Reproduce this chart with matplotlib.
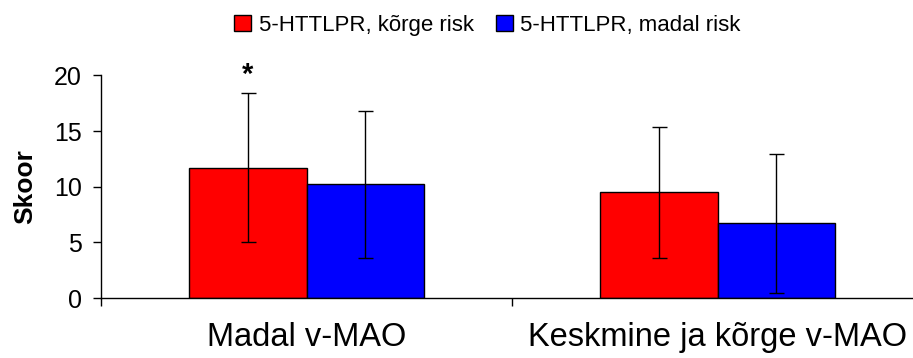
import numpy as np
import matplotlib.pyplot as plt
from matplotlib.patches import Patch

plt.rcParams['font.family'] = ['Liberation Sans', 'DejaVu Sans']

# data
categories = ['Madal v-MAO', 'Keskmine ja kõrge v-MAO']
series_names = ['5-HTTLPR, kõrge risk', '5-HTTLPR, madal risk']
high_risk = [11.7, 9.5]
high_risk_sd = [6.7, 5.9]
low_risk = [10.2, 6.7]
low_risk_sd = [6.6, 6.25]
yticks = [0, 5, 10, 15, 20]

# plot
fig = plt.figure(figsize=(9.13, 3.58), dpi=100)
ax = fig.add_axes([101 / 913, 60 / 358, 822 / 913, 222.6 / 358])

x = np.arange(len(categories))
w = 0.285
err_style = dict(ecolor='black', elinewidth=1, capsize=5.4, capthick=1)
ax.bar(x - w / 2, high_risk, w, yerr=high_risk_sd, color='#ff0000',
       edgecolor='black', linewidth=1, error_kw=err_style)
ax.bar(x + w / 2, low_risk, w, yerr=low_risk_sd, color='#0000ff',
       edgecolor='black', linewidth=1, error_kw=err_style)

# significance mark
ax.text(x[0] - w / 2, high_risk[0] + high_risk_sd[0] + 0.4, '*',
        ha='center', va='bottom', fontsize=21, fontweight='bold')

ax.set_xlim(-0.5, 1.5)
ax.set_ylim(0, 20)
ax.set_yticks(yticks)
ax.set_xticks([-0.5, 0.5, 1.5])
ax.set_xticklabels([])
ax.set_xticks(x, minor=True)
ax.set_xticklabels(categories, minor=True, fontsize=23.5)
ax.tick_params(axis='x', which='minor', length=0, pad=17)
ax.tick_params(axis='x', which='major', length=6, width=1, direction='out')
ax.tick_params(axis='y', length=6, width=1, direction='out', labelsize=18, pad=8)

for s in ['top', 'right']:
    ax.spines[s].set_visible(False)
for s in ['left', 'bottom']:
    ax.spines[s].set_linewidth(1)

ax.set_ylabel('Skoor', fontsize=19, fontweight='bold', labelpad=12)

handles = [Patch(facecolor='#ff0000', edgecolor='black'),
           Patch(facecolor='#0000ff', edgecolor='black')]
fig.legend(handles, series_names, loc='center', ncol=2,
           bbox_to_anchor=(487.5 / 913, 1 - 25 / 358), frameon=False,
           fontsize=16, handlelength=0.75, handleheight=0.75,
           handletextpad=0.35, columnspacing=1.0)

plt.savefig('out.png', dpi=100)
